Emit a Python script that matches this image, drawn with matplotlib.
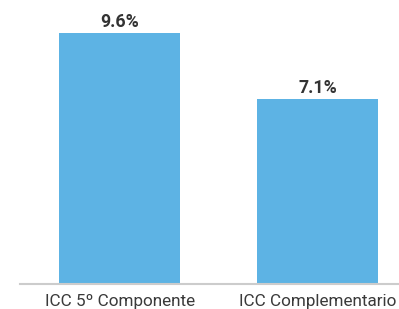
import matplotlib
matplotlib.use("Agg")
import matplotlib.pyplot as plt

categories = ["ICC 5º Componente", "ICC Complementario"]
values = [9.6, 7.1]
value_labels = ["9.6%", "7.1%"]

plt.rcParams['font.family'] = ['Roboto', 'DejaVu Sans']

fig = plt.figure(figsize=(3.99, 3.09), dpi=100)
ax = fig.add_axes([0.0501, 0.0809, 0.95, 0.8867])
x = list(range(len(categories)))
ax.bar(x, values, width=0.61, color="#5DB3E4")
for xi, v, lab in zip(x, values, value_labels):
    ax.text(xi, v + 0.08, lab, ha="center", va="bottom", fontsize=12.8,
            fontweight="bold", color="#333333")
ax.set_xlim(-0.504, 1.413)
ax.set_ylim(0, 10.5)
ax.set_xticks(x)
ax.set_xticklabels(categories, fontsize=12.3, color="#3a3a3a")
ax.tick_params(axis="x", length=0, pad=7)
ax.set_yticks([])
for s in ["top", "right", "left"]:
    ax.spines[s].set_visible(False)
ax.spines["bottom"].set_color("#cccccc")
ax.spines["bottom"].set_linewidth(1.5)
fig.savefig("out.png", dpi=100)
